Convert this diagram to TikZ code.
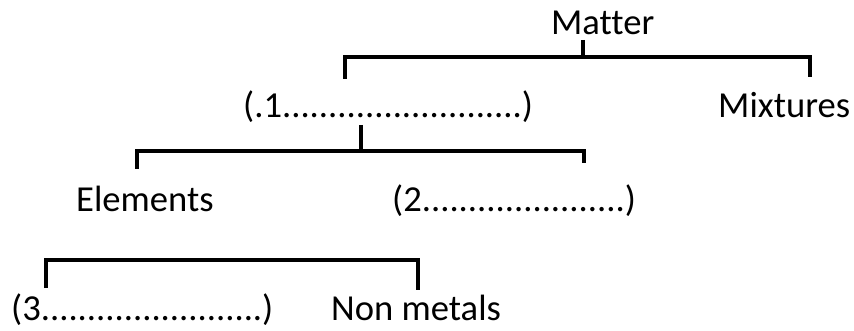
\documentclass[tikz,border=0pt]{standalone}
\usepackage{fontspec}
\setmainfont[Ligatures=NoCommon]{Carlito}
\begin{document}
\begin{tikzpicture}[x=1pt,y=-1pt,
  lbl/.style={inner sep=0pt,anchor=base west,font=\fontsize{36.6}{40}\selectfont},
  br/.style={line width=3.2pt,line cap=butt}]
\useasboundingbox (0,0) rectangle (854,331);
\node[lbl] (matter) at (551,35) {Matter};
\node[lbl] (one) at (243,118) {(.1..........................)};
\node[lbl] (mix) at (718,118) {Mixtures};
\node[lbl] (elem) at (76,212) {Elements};
\node[lbl] (two) at (392,212) {(2......................)};
\node[lbl] (three) at (11,320) {(3........................)};
\node[lbl] (nonm) at (331,320) {Non metals};
% top bracket
\coordinate (t0) at (583,40);
\coordinate (tj) at (583,57);
\coordinate (tl) at (345,79);
\coordinate (tr) at (810,77);
\draw[br] (t0) -- (tj);
\draw[br] (tl) |- (tj) -| (tr);
% second bracket
\coordinate (s0) at (361,125);
\coordinate (sj) at (361,151);
\coordinate (sl) at (137,169);
\coordinate (sr) at (584,163);
\draw[br] (s0) -- (sj);
\draw[br] (sl) |- (sj) -| (sr);
% third bracket
\coordinate (hl) at (46,288);
\coordinate (hr) at (418,290);
\draw[br] (hl) |- (232,260) -| (hr);
\end{tikzpicture}
\end{document}
